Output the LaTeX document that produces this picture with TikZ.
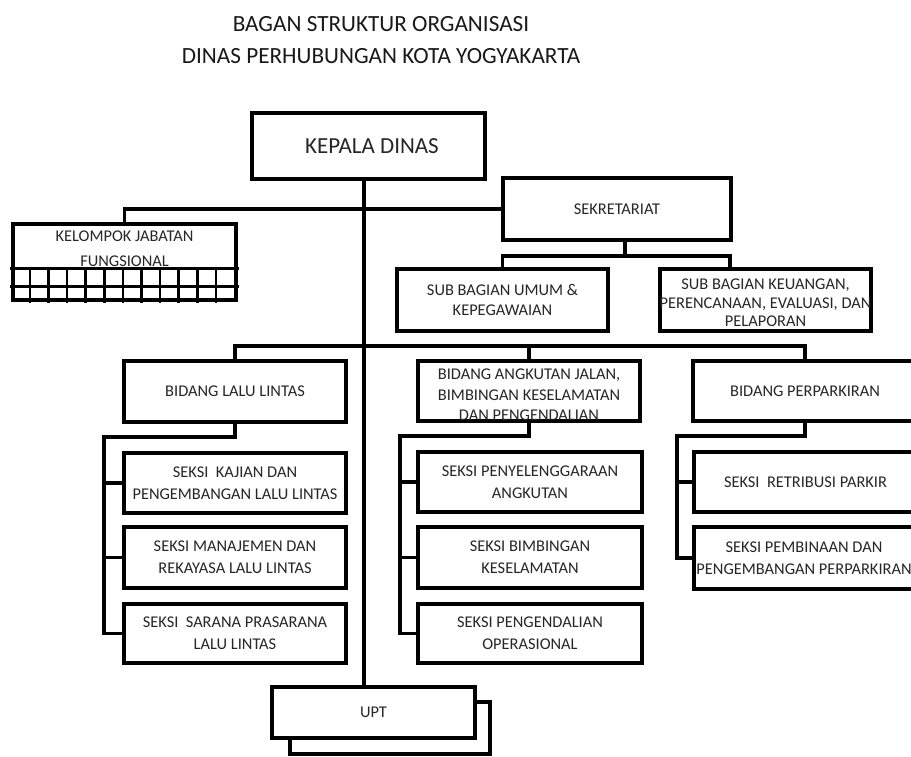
\documentclass[tikz,border=0pt]{standalone}
\usepackage{fontspec}
\setmainfont{Carlito}
\begin{document}
\begin{tikzpicture}[x=1pt,y=-1pt,
  box/.style={draw, line width=3.1pt, fill=white, inner sep=0pt, rectangle, line join=miter},
  conn/.style={line width=3.1pt, line cap=rect, line join=miter},
  gridln/.style={line width=2.6pt, line cap=rect},
  txt/.style={font=\fontsize{16.4}{20}\selectfont, align=center, text=black!85, inner sep=0pt},
  stxt/.style={txt, font=\fontsize{16.4}{22}\selectfont},
  ttl/.style={font=\fontsize{23.2}{27}\selectfont, text=black!90, inner sep=0pt}]
\useasboundingbox (0,0) rectangle (911,756);
\clip (0,0) rectangle (911,756);
\fill[white] (0,0) rectangle (911,756);

% title
\node[ttl] (t1) at (381,24) {BAGAN STRUKTUR ORGANISASI};
\node[ttl] (t2) at (381,56) {DINAS PERHUBUNGAN KOTA YOGYAKARTA};

\coordinate (spine) at (364,0);
\coordinate (bus) at (0,346);

% UPT (shadow first)
\node[box, minimum width=200pt, minimum height=52pt] (uptb) at (390,728) {};
\node[box, minimum width=203pt, minimum height=51pt] (upt) at (373.5,712.5) {};
\node[txt] (uptt) at (373.5,712.5) {UPT};

% main spine
\draw[conn] (spine |- 0,179) coordinate (spa) -- (upt.north -| spine);

% top boxes
\node[box, minimum width=233pt, minimum height=66pt] (kd) at (368.5,146) {};
\node[txt, font=\fontsize{23}{27}\selectfont] (kdt) at (372,146) {KEPALA DINAS};

\node[box, minimum width=228pt, minimum height=62pt] (sek) at (617,209) {};
\node[txt] (sekt) at (617,209) {SEKRETARIAT};

\node[box, minimum width=211pt, minimum height=62pt] (sbu) at (502.5,300) {};
\node[txt] (sbut) at (502.5,300) {SUB BAGIAN UMUM \&\\KEPEGAWAIAN};

\node[box, minimum width=211pt, minimum height=62pt] (sbk) at (765.5,300) {};
\node[txt, font=\fontsize{16.4}{18.5}\selectfont] (sbkt) at (765.5,303) {SUB BAGIAN KEUANGAN,\\PERENCANAAN, EVALUASI, DAN\\PELAPORAN};

% kelompok jabatan fungsional
\node[box, minimum width=223pt, minimum height=76pt] (kjf) at (124.5,262) {};
\draw[gridln] ([yshift=-46pt]kjf.north west) -- ([yshift=-46pt]kjf.north east);
\draw[gridln] ([yshift=15pt]kjf.south west) -- ([yshift=15pt]kjf.south east);
\foreach \i in {1,...,11}
  \draw[gridln] ([xshift=\i*18.58pt]kjf.south west) -- ++(0,-30);
\node[txt, font=\fontsize{16.4}{25}\selectfont] (kjft) at (124.5,249) {KELOMPOK JABATAN\\FUNGSIONAL};

% bidang
\node[box, minimum width=222pt, minimum height=61pt] (bll) at (235,391.5) {};
\node[txt] (bllt) at (235,391.5) {BIDANG LALU LINTAS};
\node[box, minimum width=222pt, minimum height=60pt] (bak) at (529,391) {};
\node[txt, font=\fontsize{16.4}{20.5}\selectfont] (bakt) at (529,395) {BIDANG ANGKUTAN JALAN,\\BIMBINGAN KESELAMATAN\\DAN PENGENDALIAN};
\node[box, minimum width=224pt, minimum height=60pt] (bpp) at (805,391) {};
\node[txt] (bppt) at (805,391) {BIDANG PERPARKIRAN};

% seksi lalu lintas
\node[box, minimum width=222pt, minimum height=60pt] (sll1) at (235,483) {};
\node[stxt] (sll1t) at (235,483) {SEKSI\ \ KAJIAN DAN\\PENGEMBANGAN LALU LINTAS};
\node[box, minimum width=222pt, minimum height=61pt] (sll2) at (235,557.5) {};
\node[stxt] (sll2t) at (235,557.5) {SEKSI MANAJEMEN DAN\\REKAYASA LALU LINTAS};
\node[box, minimum width=222pt, minimum height=59pt] (sll3) at (235,633.5) {};
\node[stxt] (sll3t) at (235,633.5) {SEKSI\ \ SARANA PRASARANA\\LALU LINTAS};

% seksi angkutan
\node[box, minimum width=224pt, minimum height=60pt] (sak1) at (530,482) {};
\node[stxt] (sak1t) at (530,482) {SEKSI PENYELENGGARAAN\\ANGKUTAN};
\node[box, minimum width=224pt, minimum height=61pt] (sak2) at (530,557.5) {};
\node[stxt] (sak2t) at (530,557.5) {SEKSI BIMBINGAN\\KESELAMATAN};
\node[box, minimum width=224pt, minimum height=59pt] (sak3) at (530,633.5) {};
\node[stxt] (sak3t) at (530,633.5) {SEKSI PENGENDALIAN\\OPERASIONAL};

% seksi perparkiran
\node[box, minimum width=223pt, minimum height=60pt] (spp1) at (805.5,482) {};
\node[stxt] (spp1t) at (805.5,482) {SEKSI\ \ RETRIBUSI PARKIR};
\node[box, minimum width=223pt, minimum height=62pt] (spp2) at (805.5,558) {};
\node[stxt] (spp2t) at (804,558) {SEKSI PEMBINAAN DAN\\PENGEMBANGAN PERPARKIRAN};

% connectors top
\draw[conn] (kjf.north) |- (sek.west);
\coordinate (j1) at (625,256);
\coordinate (j1r) at (730,256);
\draw[conn] (sek.south -| j1) -- (j1);
\draw[conn] (sbu.north) |- (j1r) -- (sbk.north -| j1r);

% bidang bus
\draw[conn] (bll.north) |- (bus -| bpp.north) -- (bpp.north);
\draw[conn] (bak.north) -- (bus -| bak.north);

% lalu lintas bracket
\coordinate (llb) at (104,437);
\draw[conn] (bll.south) |- (llb) |- (sll3.west);
\draw[conn] (llb |- sll1.west) -- (sll1.west);
\draw[conn] (llb |- sll2.west) -- (sll2.west);

% angkutan bracket
\coordinate (akb) at (400,436);
\draw[conn] (bak.south) |- (akb) |- (sak3.west);
\draw[conn] (akb |- sak1.west) -- (sak1.west);
\draw[conn] (akb |- sak2.west) -- (sak2.west);

% perparkiran bracket
\coordinate (ppb) at (677,436);
\draw[conn] (bpp.south) |- (ppb) |- (spp2.west);
\draw[conn] (ppb |- spp1.west) -- (spp1.west);
\end{tikzpicture}
\end{document}
